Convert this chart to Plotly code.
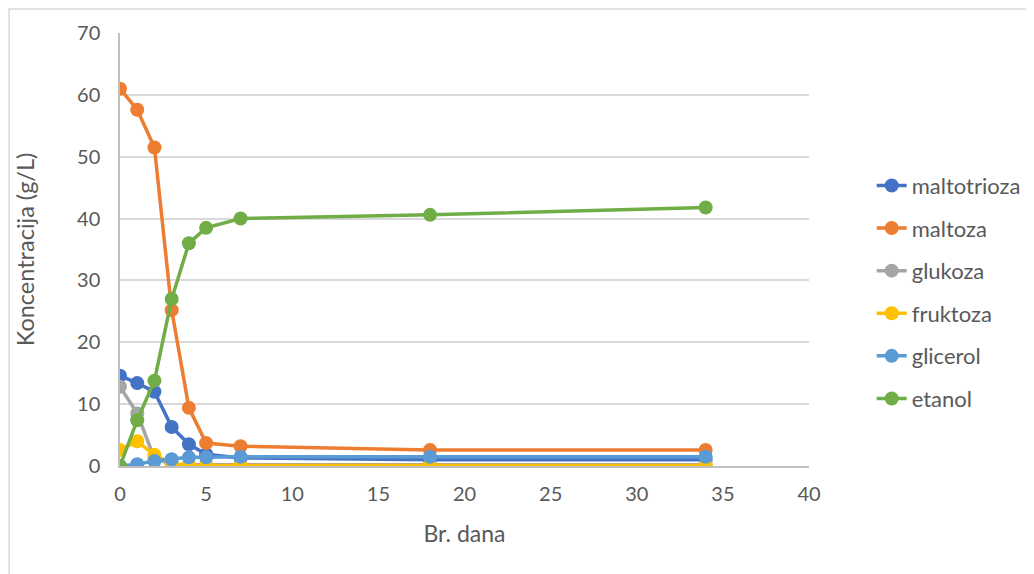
import plotly.graph_objects as go

days = [0, 1, 2, 3, 4, 5, 7, 18, 34]
maltotrioza = [14.6, 13.4, 12.0, 6.3, 3.5, 1.9, 1.3, 1.0, 1.0]
maltoza = [61.0, 57.6, 51.5, 25.2, 9.4, 3.7, 3.2, 2.6, 2.6]
glukoza = [12.8, 8.5, 1.2, 0.3, 0.2, 0.2, 0.2, 0.2, 0.2]
fruktoza = [2.6, 4.0, 1.8, 0.4, 0.1, 0.1, 0.1, 0.1, 0.1]
glicerol = [0.0, 0.3, 0.8, 1.1, 1.4, 1.4, 1.5, 1.5, 1.5]
etanol = [0.0, 7.4, 13.8, 27.0, 36.0, 38.5, 40.0, 40.6, 41.8]

series = [
    ("maltotrioza", maltotrioza, "#4472C4"),
    ("maltoza", maltoza, "#ED7D31"),
    ("glukoza", glukoza, "#A5A5A5"),
    ("fruktoza", fruktoza, "#FFC000"),
    ("glicerol", glicerol, "#5B9BD5"),
    ("etanol", etanol, "#70AD47"),
]

fig = go.Figure()
for name, vals, col in series:
    fig.add_trace(go.Scatter(
        x=days, y=vals, name=name, mode="lines+markers",
        line=dict(color=col, width=3.5),
        marker=dict(color=col, size=14),
        legendgroup=name,
    ))

font = "Lato, 'Open Sans', sans-serif"
fig.update_layout(
    width=1034, height=574,
    margin=dict(l=112, r=233, t=25, b=116),
    paper_bgcolor="white", plot_bgcolor="white",
    font=dict(family=font, size=20, color="#595959"),
    showlegend=True,
    legend=dict(x=1.091, y=0.696, xanchor="left", yanchor="top",
                font=dict(size=22, color="#595959"),
                tracegroupgap=11),
    xaxis=dict(range=[0, 40], dtick=5, showgrid=False, zeroline=False,
               showline=True, linecolor="#BFBFBF", linewidth=1.5,
               ticks="", ticklabelstandoff=9, tickfont=dict(size=20, color="#595959"),
               title=dict(text="Br. dana", font=dict(size=23, color="#595959"), standoff=22)),
    yaxis=dict(range=[0, 70], dtick=10, showgrid=True, gridcolor="#D9D9D9", gridwidth=1.5,
               zeroline=False, showline=True, linecolor="#BFBFBF", linewidth=1.5,
               ticks="", ticklabelstandoff=14, tickfont=dict(size=20, color="#595959"),
               title=dict(text="Koncentracija (g/L)", font=dict(size=23.5, color="#595959"), standoff=36)),
    shapes=[dict(type="rect", xref="paper", yref="paper",
                 x0=-0.161, x1=1.4, y0=-0.4, y1=1.0554,
                 line=dict(color="#D9D9D9", width=1.5), fillcolor="rgba(0,0,0,0)", layer="below")],
)
fig.write_html("out.html")
